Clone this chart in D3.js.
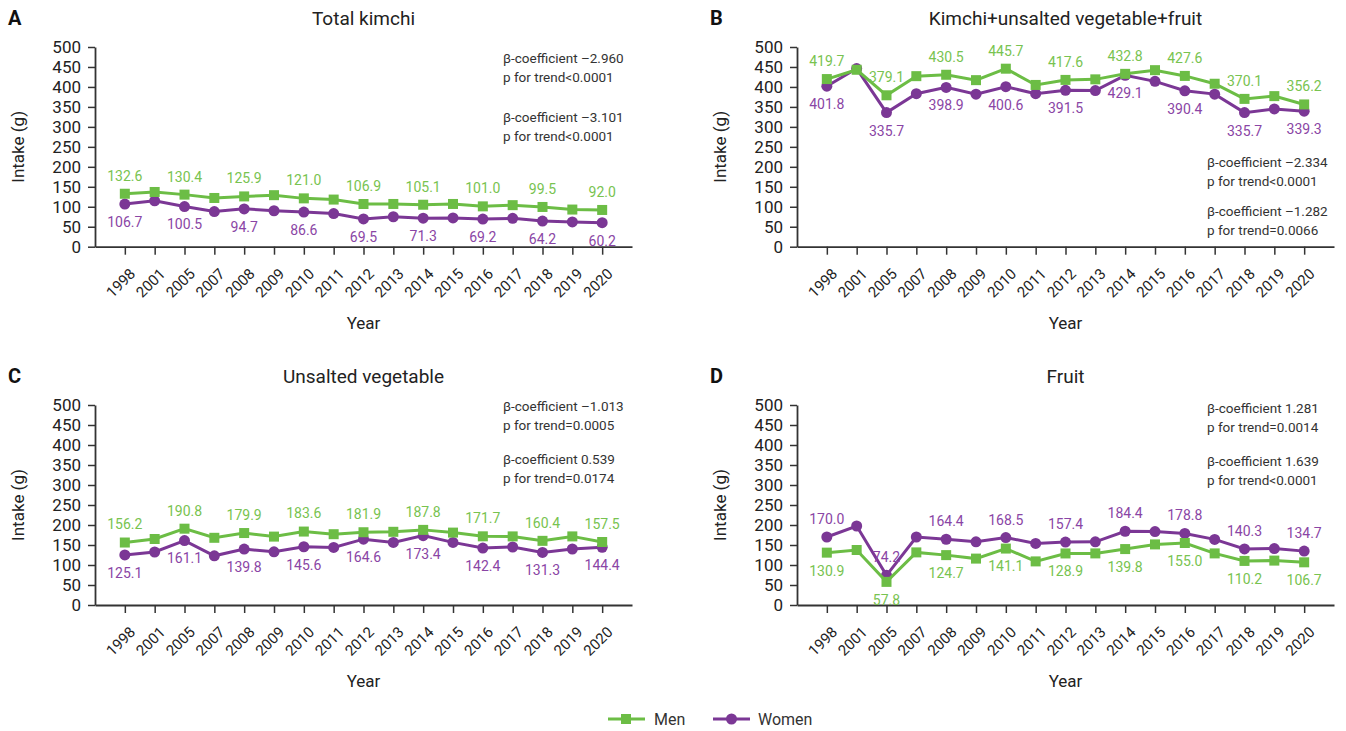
<!doctype html>
<html>
<head>
<meta charset="UTF-8">
<script src="https://d3js.org/d3.v7.min.js"></script>
<style>
  body { margin: 0; background: #fff; }
  text { font-family: Roboto, "Noto Sans", sans-serif; }
</style>
</head>
<body>
<svg id="chart" width="1346" height="731"></svg>
<script>
// data
const years = ["1998","2001","2005","2007","2008","2009","2010","2011","2012","2013","2014","2015","2016","2017","2018","2019","2020"];
const labeledYears = ["1998","2005","2008","2010","2012","2014","2016","2018","2020"];
const yTicks = [0,50,100,150,200,250,300,350,400,450,500];

const menKimchi   = [132.6,137,130.4,122,125.9,129,121.0,118,106.9,107,105.1,107,101.0,104,99.5,93,92.0];
const womenKimchi = [106.7,115,100.5,88,94.7,90,86.6,83,69.5,75,71.3,72,69.2,71,64.2,62,60.2];

const menTotal   = [419.7,443,379.1,427,430.5,417,445.7,405,417.6,419,432.8,442,427.6,408,370.1,377,356.2];
const womenTotal = [401.8,446,335.7,383,398.9,382,400.6,383,391.5,391,429.1,414,390.4,382,335.7,345,339.3];

const menVeg   = [156.2,165,190.8,168,179.9,171,183.6,177,181.9,183,187.8,181,171.7,171.5,160.4,171.5,157.5];
const womenVeg = [125.1,132.5,161.1,123,139.8,133,145.6,144,164.6,156.5,173.4,156.5,142.4,145,131.3,140,144.4];

const menFruit   = [130.9,137.5,57.8,131.5,124.7,116,141.1,109,128.9,129,139.8,151.5,155.0,129,110.2,111,106.7];
const womenFruit = [170.0,197.5,74.2,170,164.4,158,168.5,154,157.4,158,184.4,183.5,178.8,164,140.3,141,134.7];

const panelLetters = ["A","B","C","D"];
const panelTitles = ["Total kimchi","Kimchi+unsalted vegetable+fruit","Unsalted vegetable","Fruit"];
const panelNotes = [
  ["\u03b2-coefficient \u20132.960","p for trend<0.0001","\u03b2-coefficient \u20133.101","p for trend<0.0001"],
  ["\u03b2-coefficient \u20132.334","p for trend<0.0001","\u03b2-coefficient \u20131.282","p for trend=0.0066"],
  ["\u03b2-coefficient \u20131.013","p for trend=0.0005","\u03b2-coefficient 0.539","p for trend=0.0174"],
  ["\u03b2-coefficient 1.281","p for trend=0.0014","\u03b2-coefficient 1.639","p for trend<0.0001"]
];
const panelMen = [menKimchi, menTotal, menVeg, menFruit];
const panelWomen = [womenKimchi, womenTotal, womenVeg, womenFruit];

const menColor = "#6cbd45", womenColor = "#7b3795";
const menText = "#78c350", womenText = "#8a45a5";
const ink = "#333";

const svg = d3.select("#chart");

// layout of each panel
const layout = [
  {x0: 95,  x1: 632,  yTop: 47,  yBot: 246.7, notesX: 503,  notesY: 58,  noteGap: 20.5, menAbove: true},
  {x0: 797, x1: 1334, yTop: 47,  yBot: 246.7, notesX: 1207, notesY: 162, noteGap: 10,   menAbove: true},
  {x0: 95,  x1: 632,  yTop: 405, yBot: 605,   notesX: 503,  notesY: 406, noteGap: 14,   menAbove: true},
  {x0: 797, x1: 1334, yTop: 405, yBot: 605,   notesX: 1207, notesY: 408, noteGap: 14,   menAbove: false}
];

layout.forEach(function(L, p) {
  var g = svg.append("g");
  var x = d3.scalePoint().domain(years).range([L.x0, L.x1]).padding(1);
  var y = d3.scaleLinear().domain([0, 500]).range([L.yBot, L.yTop]);
  var cx = (L.x0 + L.x1) / 2;

  // panel letter and title
  g.append("text").attr("x", L.x0 - 87).attr("y", L.yTop - 22)
    .attr("font-size", 20).attr("font-weight", "bold").attr("fill", "#111")
    .text(panelLetters[p]);
  g.append("text").attr("x", cx).attr("y", L.yTop - 22)
    .attr("text-anchor", "middle").attr("font-size", 19).attr("fill", "#222")
    .text(panelTitles[p]);

  // y axis
  var ya = g.append("g").attr("transform", "translate(" + L.x0 + ",0)")
    .call(d3.axisLeft(y).tickValues(yTicks).tickSize(7).tickPadding(7).tickSizeOuter(0));
  ya.select(".domain").attr("stroke", ink).attr("stroke-width", 1.8);
  ya.selectAll(".tick line").attr("stroke", ink).attr("stroke-width", 1.5);
  ya.selectAll(".tick text").attr("font-size", 17).attr("fill", "#222")
    .attr("font-family", "Roboto, sans-serif");

  // x axis
  var xa = g.append("g").attr("transform", "translate(0," + L.yBot + ")")
    .call(d3.axisBottom(x).tickSize(8).tickSizeOuter(0));
  xa.select(".domain").attr("stroke", ink).attr("stroke-width", 1.8);
  xa.selectAll(".tick line").attr("stroke", ink).attr("stroke-width", 1.5);
  xa.selectAll(".tick text").attr("font-size", 15).attr("fill", "#222")
    .attr("font-family", "Roboto, sans-serif")
    .attr("text-anchor", "end").attr("dy", null).attr("y", 0)
    .attr("transform", "translate(11,28) rotate(-45)");

  // axis titles
  g.append("text").attr("x", cx).attr("y", L.yBot + 82)
    .attr("text-anchor", "middle").attr("font-size", 17).attr("fill", "#222").text("Year");
  g.append("text")
    .attr("transform", "translate(" + (L.x0 - 71) + "," + ((L.yTop + L.yBot) / 2) + ") rotate(-90)")
    .attr("text-anchor", "middle").attr("font-size", 17).attr("fill", "#222").text("Intake (g)");

  // trend notes
  panelNotes[p].forEach(function(t, i) {
    g.append("text").attr("x", L.notesX)
      .attr("y", L.notesY + 5 + i * 19.3 + (i >= 2 ? L.noteGap : 0))
      .attr("font-size", 13.5).attr("fill", ink).text(t);
  });

  var line = d3.line().x(function(d, i) { return x(years[i]); }).y(function(d) { return y(d); });

  var men = panelMen[p], women = panelWomen[p];

  // women
  g.append("path").datum(women).attr("d", line).attr("fill", "none")
    .attr("stroke", womenColor).attr("stroke-width", 3);
  g.selectAll(".wdot").data(women).enter().append("circle")
    .attr("cx", function(d, i) { return x(years[i]); }).attr("cy", function(d) { return y(d); })
    .attr("r", 5.5).attr("fill", womenColor);

  // men
  g.append("path").datum(men).attr("d", line).attr("fill", "none")
    .attr("stroke", menColor).attr("stroke-width", 3);
  g.selectAll(".mdot").data(men).enter().append("rect")
    .attr("x", function(d, i) { return x(years[i]) - 5; }).attr("y", function(d) { return y(d) - 5; })
    .attr("width", 10).attr("height", 10).attr("fill", menColor);

  // value labels
  var off = 18;
  years.forEach(function(yr, i) {
    if (labeledYears.indexOf(yr) < 0) return;
    g.append("text").attr("x", x(yr))
      .attr("y", y(men[i]) + (L.menAbove ? -off : off))
      .attr("dy", "0.35em").attr("text-anchor", "middle")
      .attr("font-size", 14).attr("fill", menText).text(men[i].toFixed(1));
    g.append("text").attr("x", x(yr))
      .attr("y", y(women[i]) + (L.menAbove ? off : -off))
      .attr("dy", "0.35em").attr("text-anchor", "middle")
      .attr("font-size", 14).attr("fill", womenText).text(women[i].toFixed(1));
  });
});

// legend
var lg = svg.append("g");
lg.append("line").attr("x1", 608).attr("x2", 645).attr("y1", 719).attr("y2", 719)
  .attr("stroke", menColor).attr("stroke-width", 3);
lg.append("rect").attr("x", 621).attr("y", 714).attr("width", 10).attr("height", 10).attr("fill", menColor);
lg.append("text").attr("x", 654).attr("y", 719).attr("dy", "0.35em")
  .attr("font-family", "DejaVu Sans, sans-serif").attr("font-size", 16).attr("fill", ink).text("Men");
lg.append("line").attr("x1", 713).attr("x2", 750).attr("y1", 719).attr("y2", 719)
  .attr("stroke", womenColor).attr("stroke-width", 3);
lg.append("circle").attr("cx", 731.5).attr("cy", 719).attr("r", 5.5).attr("fill", womenColor);
lg.append("text").attr("x", 758).attr("y", 719).attr("dy", "0.35em")
  .attr("font-family", "DejaVu Sans, sans-serif").attr("font-size", 16).attr("fill", ink).text("Women");
</script>
</body>
</html>
